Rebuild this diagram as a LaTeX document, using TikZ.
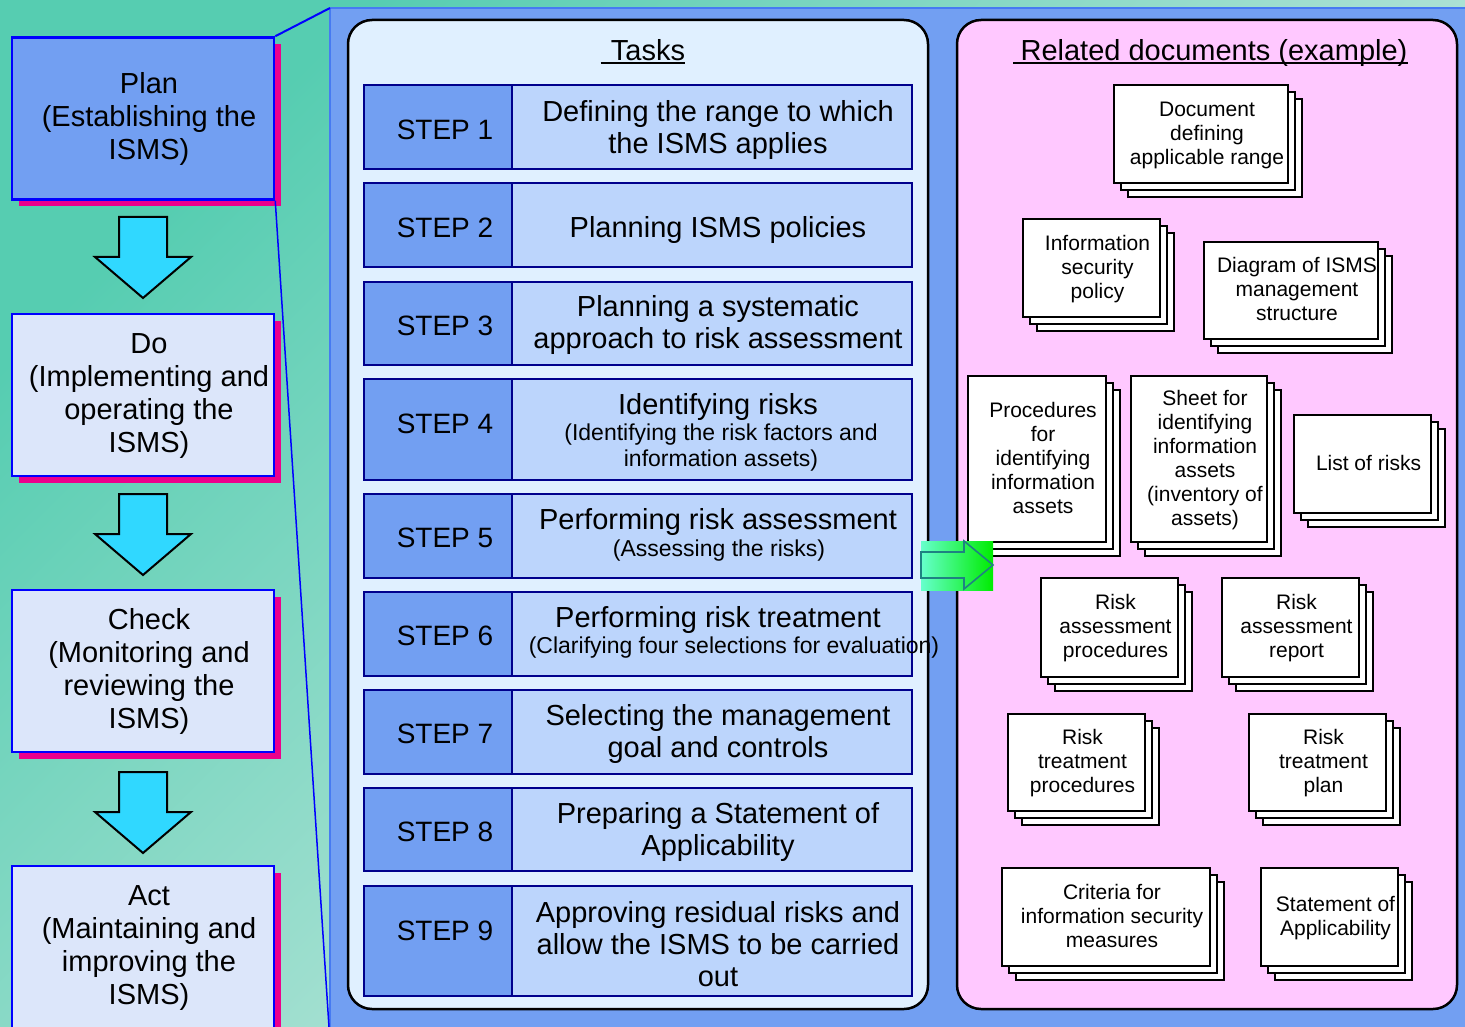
\documentclass[tikz,border=0pt]{standalone}
\usepackage{fontspec}
\setmainfont{Liberation Sans}
\usetikzlibrary{shadows}

\definecolor{bgteal}{RGB}{86,205,177}
\definecolor{bgmid}{RGB}{180,222,212}
\definecolor{bglight}{RGB}{222,238,233}
\definecolor{panelblue}{RGB}{114,159,242}
\definecolor{paneledge}{RGB}{70,122,242}
\definecolor{taskfill}{RGB}{224,240,255}
\definecolor{docpink}{RGB}{255,200,255}
\definecolor{cellright}{RGB}{188,213,252}
\definecolor{cellnavy}{RGB}{0,0,140}
\definecolor{phasefill}{RGB}{220,230,250}
\definecolor{arrowcyan}{RGB}{48,216,255}
\definecolor{greenA}{RGB}{102,255,204}
\definecolor{greenB}{RGB}{0,236,0}
\definecolor{greenedge}{RGB}{30,130,130}

% block arrow pointing down: centre x, top y
\newcommand\phasearrow[2]{%
  \draw[bigarrow] (#1-24,#2) -- (#1+24,#2) -- (#1+24,#2+40) -- (#1+48,#2+40)
    -- (#1,#2+81) -- (#1-48,#2+40) -- (#1-24,#2+40) -- cycle;}
% centred lines, nudged a little right and down inside their box
\newcommand\nudged[1]{\hspace*{12pt}%
  \raisebox{0pt}[\dimexpr\height+3pt\relax][\depth]{\begin{tabular}{@{}c@{}}#1\end{tabular}}}

\begin{document}
\begin{tikzpicture}[x=1pt,y=-1pt,
  phase/.style={draw=blue, line width=2.5pt, inner sep=0pt,
    minimum width=262pt, minimum height=162pt,
    font=\fontsize{29}{33}\selectfont,
    general shadow={fill=magenta, shadow xshift=7pt, shadow yshift=-7pt}},
  bigarrow/.style={draw=black, line width=2pt, fill=arrowcyan, line join=miter},
  panel/.style={draw=black, line width=2.5pt, rounded corners=24pt, inner sep=0pt},
  titletext/.style={font=\fontsize{29}{33}\selectfont, inner sep=0pt, anchor=base},
  stepcell/.style={draw=cellnavy, line width=2.5pt, fill=panelblue, inner sep=0pt,
    minimum width=148pt},
  taskcell/.style={draw=cellnavy, line width=2.5pt, fill=cellright, inner sep=0pt,
    minimum width=400pt},
  steplabel/.style={font=\fontsize{28}{32}\selectfont, inner sep=0pt},
  tasktext/.style={font=\fontsize{29}{32}\selectfont, align=center, inner sep=0pt},
  subtext/.style={font=\fontsize{23}{26}\selectfont, align=center, inner sep=0pt},
  docstack/.style={draw=black, fill=white, line width=2.5pt, inner sep=0pt,
    font=\fontsize{21}{24}\selectfont,
    double copy shadow={shadow xshift=7pt, shadow yshift=-7pt,
      draw=black, fill=white, line width=2.5pt}}]

\useasboundingbox (0,0) rectangle (1465,1027);
\clip (0,0) rectangle (1465,1027);

% background
\shade[top color=bgteal, middle color=bgmid, bottom color=bglight, shading angle=45]
  (0,0) rectangle (1465,1027);

% blue panel holding the two columns
\fill[panelblue] (330,8) rectangle (1475,1040);
\draw[paneledge, line width=2pt] (330,1040) -- (330,8) -- (1475,8);
\coordinate (zoomtop) at (330,8);
\coordinate (zoombot) at (329,1027);

% PDCA column
\node[phase, fill=panelblue] (plan) at (143,118.5)
  {\nudged{Plan\\(Establishing the\\ISMS)}};
\node[phase, fill=phasefill] (do) at (143,395)
  {\nudged{Do\\(Implementing and\\operating the\\ISMS)}};
\node[phase, fill=phasefill] (check) at (143,671)
  {\nudged{Check\\(Monitoring and\\reviewing the\\ISMS)}};
\node[phase, fill=phasefill] (act) at (143,947)
  {\nudged{Act\\(Maintaining and\\improving the\\ISMS)}};

\draw[blue, line width=2pt] (plan.north east) -- (zoomtop);
\draw[blue, line width=1.5pt] (plan.south east) -- (zoombot);

\phasearrow{143}{217}
\phasearrow{143}{494}
\phasearrow{143}{772}

% tasks column
\node[panel, fill=taskfill, minimum width=580pt, minimum height=989pt] (tasks)
  at (638,514.5) {};
\node[titletext] (taskstitle) at (648,60.5) {Tasks};
\draw[line width=1.8pt] ([xshift=-10pt,yshift=-2.5pt]taskstitle.base west)
  -- ([yshift=-2.5pt]taskstitle.base east);

\node[stepcell, minimum height=84pt]  (s1) at (438,127) {};
\node[taskcell, minimum height=84pt]  (c1) at (712,127) {};
\node[stepcell, minimum height=84pt]  (s2) at (438,225) {};
\node[taskcell, minimum height=84pt]  (c2) at (712,225) {};
\node[stepcell, minimum height=83pt]  (s3) at (438,323.5) {};
\node[taskcell, minimum height=83pt]  (c3) at (712,323.5) {};
\node[stepcell, minimum height=101pt] (s4) at (438,429.5) {};
\node[taskcell, minimum height=101pt] (c4) at (712,429.5) {};
\node[stepcell, minimum height=84pt]  (s5) at (438,536) {};
\node[taskcell, minimum height=84pt]  (c5) at (712,536) {};
\node[stepcell, minimum height=84pt]  (s6) at (438,634) {};
\node[taskcell, minimum height=84pt]  (c6) at (712,634) {};
\node[stepcell, minimum height=84pt]  (s7) at (438,732) {};
\node[taskcell, minimum height=84pt]  (c7) at (712,732) {};
\node[stepcell, minimum height=83pt]  (s8) at (438,829.5) {};
\node[taskcell, minimum height=83pt]  (c8) at (712,829.5) {};
\node[stepcell, minimum height=110pt] (s9) at (438,941) {};
\node[taskcell, minimum height=110pt] (c9) at (712,941) {};

\node[steplabel] (l1) at (445,130) {STEP 1};
\node[steplabel] (l2) at (445,228) {STEP 2};
\node[steplabel] (l3) at (445,326) {STEP 3};
\node[steplabel] (l4) at (445,424) {STEP 4};
\node[steplabel] (l5) at (445,538) {STEP 5};
\node[steplabel] (l6) at (445,636) {STEP 6};
\node[steplabel] (l7) at (445,734) {STEP 7};
\node[steplabel] (l8) at (445,832) {STEP 8};
\node[steplabel] (l9) at (445,931) {STEP 9};

\node[tasktext] (t1) at (718,130) {Defining the range to which\\the ISMS applies};
\node[tasktext] (t2) at (718,230) {Planning ISMS policies};
\node[tasktext] (t3) at (718,325) {Planning a systematic\\approach to risk assessment};
\node[tasktext] (t4) at (718,407) {Identifying risks};
\node[subtext]  (t4s) at (721,448) {(Identifying the risk factors and\\information assets)};
\node[tasktext] (t5) at (718,522) {Performing risk assessment};
\node[subtext]  (t5s) at (719,551) {(Assessing the risks)};
\node[tasktext] (t6) at (718,620) {Performing risk treatment};
\node[subtext]  (t6s) at (734,648) {(Clarifying four selections for evaluation)};
\node[tasktext] (t7) at (718,734) {Selecting the management\\goal and controls};
\node[tasktext] (t8) at (718,832) {Preparing a Statement of\\Applicability};
\node[tasktext] (t9) at (718,944) {Approving residual risks and\\allow the ISMS to be carried\\out};

% related documents column
\node[panel, fill=docpink, minimum width=500pt, minimum height=989pt] (docs)
  at (1207,514.5) {};
\node[titletext] (docstitle) at (1214,60.5) {Related documents (example)};
\draw[line width=1.8pt] ([xshift=-7pt,yshift=-2.5pt]docstitle.base west)
  -- ([yshift=-2.5pt]docstitle.base east);

\node[docstack, minimum width=174pt, minimum height=98pt] (dRange) at (1201,134)
  {\nudged{Document\\defining\\applicable range}};
\node[docstack, minimum width=137pt, minimum height=98pt] (dPolicy) at (1091.5,268)
  {\nudged{Information\\security\\policy}};
\node[docstack, minimum width=174pt, minimum height=97pt] (dStruct) at (1291,290.5)
  {\nudged{Diagram of ISMS\\management\\structure}};
\node[docstack, minimum width=138pt, minimum height=166pt] (dProc) at (1037,459)
  {\nudged{Procedures\\for\\identifying\\information\\assets}};
\node[docstack, minimum width=136pt, minimum height=166pt] (dSheet) at (1199,459)
  {\nudged{Sheet for\\identifying\\information\\assets\\(inventory of\\assets)}};
\node[docstack, minimum width=137pt, minimum height=98pt] (dRisks) at (1362.5,464)
  {\nudged{List of risks}};
\node[docstack, minimum width=137pt, minimum height=99pt] (dRAProc) at (1109.5,627.5)
  {\nudged{Risk\\assessment\\procedures}};
\node[docstack, minimum width=137pt, minimum height=99pt] (dRARep) at (1290.5,627.5)
  {\nudged{Risk\\assessment\\report}};
\node[docstack, minimum width=137pt, minimum height=97pt] (dTRProc) at (1076.5,762.5)
  {\nudged{Risk\\treatment\\procedures}};
\node[docstack, minimum width=137pt, minimum height=97pt] (dTRPlan) at (1317.5,762.5)
  {\nudged{Risk\\treatment\\plan}};
\node[docstack, minimum width=208pt, minimum height=98pt] (dCrit) at (1106,917)
  {\nudged{Criteria for\\information security\\measures}};
\node[docstack, minimum width=137pt, minimum height=98pt] (dSoA) at (1329.5,917)
  {\nudged{Statement of\\Applicability}};

% green arrow from the tasks to the documents
\shade[left color=greenA, right color=greenB] (921,541) rectangle (993,590);
\draw[greenedge, line width=1.6pt, line join=miter]
  (921,552) -- (964,552) -- (964,541) -- (993,565) -- (964,589)
  -- (964,578) -- (921,578) -- cycle;

\end{tikzpicture}
\end{document}
